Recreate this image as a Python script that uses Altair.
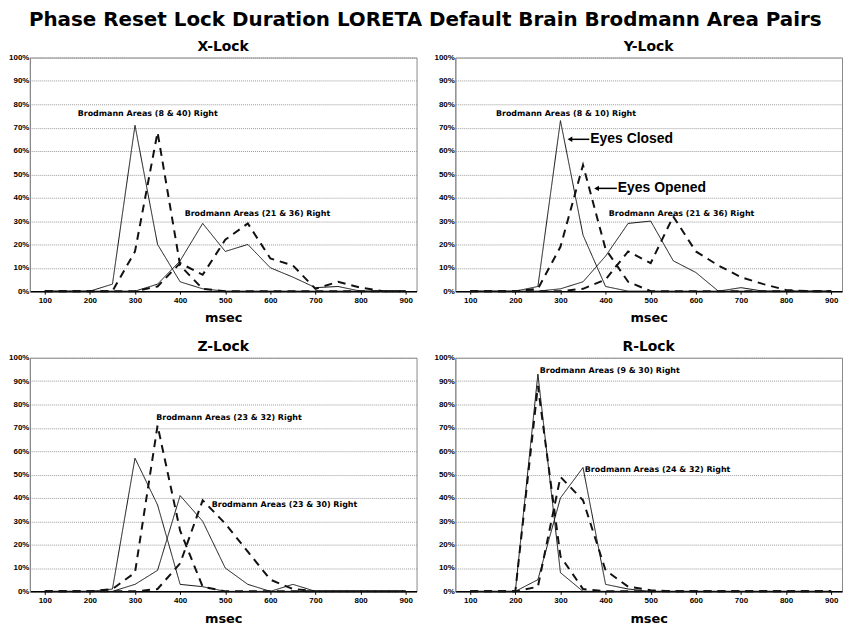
import altair as alt
import pandas as pd

FONT = "Liberation Sans"
HEAVY = "DejaVu Sans"

msec = [100, 150, 200, 250, 300, 350, 400, 450, 500, 550, 600, 650, 700, 750, 800, 850, 900]
x_ticks = [100, 200, 300, 400, 500, 600, 700, 800, 900]
y_ticks = [0, 10, 20, 30, 40, 50, 60, 70, 80, 90, 100]

# X-Lock
x_closed_a = [0, 0, 0, 3, 71, 20, 4, 1, 0, 0, 0, 0, 0, 0, 0, 0, 0]
x_opened_a = [0, 0, 0, 0, 17, 68, 11, 1, 0, 0, 0, 0, 0, 0, 0, 0, 0]
x_closed_b = [0, 0, 0, 0, 0, 3, 13, 29, 17, 20, 10, 6, 1.5, 2, 0, 0, 0]
x_opened_b = [0, 0, 0, 0, 0, 2, 12, 7, 22, 29, 14, 11, 1, 4, 1.5, 0, 0]
# Y-Lock
y_closed_a = [0, 0, 0, 2, 73, 24, 2, 0, 0, 0, 0, 0, 0, 0, 0, 0, 0]
y_opened_a = [0, 0, 0, 1, 19, 54, 18, 4, 0, 0, 0, 0, 0, 0, 0, 0, 0]
y_closed_b = [0, 0, 0, 0, 1, 4, 15, 29, 30, 13, 8, 0, 1.5, 0, 0, 0, 0]
y_opened_b = [0, 0, 0, 0, 0, 1, 5, 17, 12, 32, 17, 11, 6, 3, 0.5, 0, 0]
# Z-Lock
z_closed_a = [0, 0, 0, 1, 57, 37, 3, 2, 0, 0, 0, 0, 0, 0, 0, 0, 0]
z_opened_a = [0, 0, 0, 1, 8, 71, 26, 2, 0, 0, 0, 0, 0, 0, 0, 0, 0]
z_closed_b = [0, 0, 0, 0, 3, 9, 41, 30, 10, 3, 0, 3, 0, 0, 0, 0, 0]
z_opened_b = [0, 0, 0, 0, 0, 1, 12, 39, 29, 17, 5, 1, 0, 0, 0, 0, 0]
# R-Lock
r_closed_a = [0, 0, 0, 93, 8, 0, 0, 0, 0, 0, 0, 0, 0, 0, 0, 0, 0]
r_opened_a = [0, 0, 0, 88, 15, 1, 0, 0, 0, 0, 0, 0, 0, 0, 0, 0, 0]
r_closed_b = [0, 0, 0, 5, 40, 53, 3, 1, 0, 0, 0, 0, 0, 0, 0, 0, 0]
r_opened_b = [0, 0, 0, 2, 49, 39, 9, 2, 0.5, 0, 0, 0, 0, 0, 0, 0, 0]

# annotations: (text, msec, pct)
x_labels = [("Brodmann Areas (8 & 40) Right", 173, 76), ("Brodmann Areas (21 & 36) Right", 410, 33)]
y_labels = [("Brodmann Areas (8 & 10) Right", 157, 76), ("Brodmann Areas (21 & 36) Right", 407, 33)]
z_labels = [("Brodmann Areas (23 & 32) Right", 347, 74), ("Brodmann Areas (23 & 30) Right", 470, 37)]
r_labels = [("Brodmann Areas (9 & 30) Right", 254, 94.5), ("Brodmann Areas (24 & 32) Right", 354, 52)]

# legend arrows in Y-Lock: (text, tip msec, tail msec, pct)
y_arrows = [("Eyes Closed", 321, 364, 65), ("Eyes Opened", 380, 425, 44)]

conds = ["Eyes Closed", "Eyes Opened"]


def make_df(ca, oa, cb, ob):
    rows = []
    for pair, cond, vals in [("A", conds[0], ca), ("A", conds[1], oa), ("B", conds[0], cb), ("B", conds[1], ob)]:
        for m, v in zip(msec, vals):
            rows.append({"msec": m, "pct": v, "series": pair + cond, "cond": cond})
    return pd.DataFrame(rows)


xscale = alt.Scale(domain=[67, 924], nice=False, zero=False)
yscale = alt.Scale(domain=[0, 100], nice=False)

xaxis = alt.Axis(values=x_ticks, grid=False, tickSize=3, labelPadding=2,
                 labelFontSize=8, labelFontWeight="bold", labelColor="#000",
                 titleFontSize=13, titleFontWeight="bold", titlePadding=8,
                 titleColor="#000", domainColor="#000", domainWidth=1.5,
                 tickColor="#000", labelFont=FONT, titleFont=HEAVY, labelOverlap=False)
yaxis = alt.Axis(values=y_ticks, labelExpr="datum.value + '%'", grid=True,
                 gridColor="#999", gridDash=[1, 1], gridWidth=1,
                 tickSize=0, labelPadding=1, labelFontSize=8, labelOverlap=False,
                 labelFontWeight="bold", labelColor="#000", domainColor="#888",
                 minExtent=21, maxExtent=21, labelFont=FONT)


def X(field="msec"):
    return alt.X(f"{field}:Q", scale=xscale, title="msec", axis=xaxis)


def Y():
    return alt.Y("pct:Q", scale=yscale, title=None, axis=yaxis)


def panel(name, df, labels, arrows=None):
    lines = alt.Chart(df).mark_line(color="#111", strokeJoin="miter").encode(
        x=X(), y=Y(),
        detail="series:N",
        strokeDash=alt.StrokeDash("cond:N", scale=alt.Scale(domain=conds, range=[[1, 0], [8, 6]]), legend=None),
        strokeWidth=alt.StrokeWidth("cond:N", scale=alt.Scale(domain=conds, range=[1, 2]), legend=None),
    )
    ldf = pd.DataFrame(labels, columns=["text", "msec", "pct"])
    texts = alt.Chart(ldf).mark_text(align="left", baseline="middle", fontSize=8,
                                     fontWeight="bold", font=HEAVY, color="#000").encode(
        x=X(), y=Y(), text="text:N")
    layers = [lines, texts]
    if arrows:
        adf = pd.DataFrame(arrows, columns=["text", "msec", "tail", "pct"])
        ab = alt.Chart(adf)
        rule = ab.mark_rule(color="#000", strokeWidth=1.5).encode(x=X(), x2="tail:Q", y=Y())
        head = ab.mark_point(shape="triangle-left", filled=True, color="#000", size=30, opacity=1).encode(
            x=X(), y=Y())
        atext = ab.mark_text(align="left", baseline="middle", dx=1, fontSize=14, fontWeight="bold",
                             font=FONT, color="#000").encode(x=X("tail"), y=Y(), text="text:N")
        layers += [rule, head, atext]
    return alt.layer(*layers).properties(
        width=389, height=235,
        title=alt.TitleParams(name, fontSize=14, fontWeight="bold", font=HEAVY, color="#000",
                              anchor="middle", offset=0))


px = panel("X-Lock", make_df(x_closed_a, x_opened_a, x_closed_b, x_opened_b), x_labels)
py = panel("Y-Lock", make_df(y_closed_a, y_opened_a, y_closed_b, y_opened_b), y_labels, y_arrows)
pz = panel("Z-Lock", make_df(z_closed_a, z_opened_a, z_closed_b, z_opened_b), z_labels)
pr = panel("R-Lock", make_df(r_closed_a, r_opened_a, r_closed_b, r_opened_b), r_labels)

chart = alt.vconcat(
    alt.hconcat(px, py, spacing=16),
    alt.hconcat(pz, pr, spacing=16),
    spacing=13,
).properties(
    title=alt.TitleParams("Phase Reset Lock Duration LORETA Default Brain Brodmann Area Pairs",
                          fontSize=20, fontWeight="bold", font=HEAVY, color="#000",
                          anchor="middle", offset=9),
    padding={"left": 0, "top": 0, "right": 0, "bottom": 0},
    background="white",
).configure_view(stroke="#888", strokeWidth=1)

chart.save("out.html", embed_options={"renderer": "svg", "actions": False})
